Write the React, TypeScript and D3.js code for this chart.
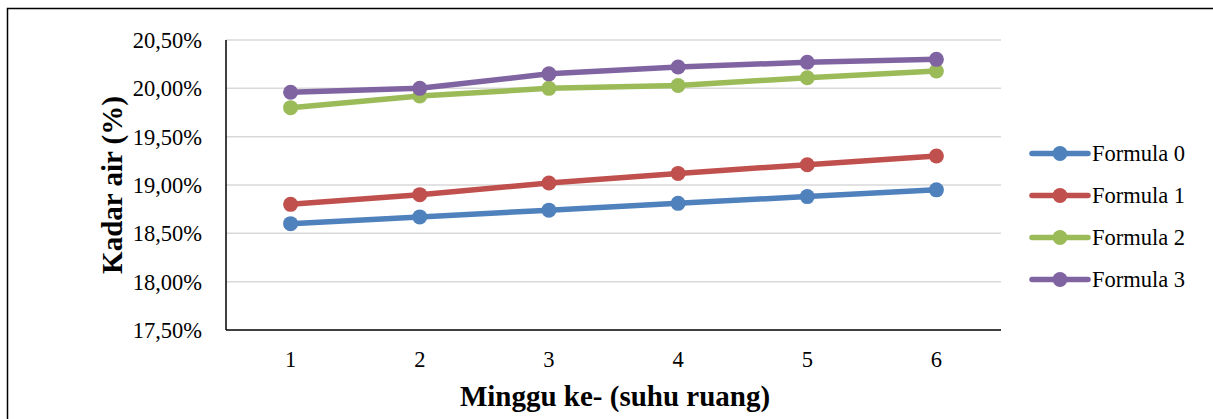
import React, { useEffect, useRef } from 'react';
import * as d3 from 'd3';

// chart data
const weeks = ['1', '2', '3', '4', '5', '6'];
const seriesNames = ['Formula 0', 'Formula 1', 'Formula 2', 'Formula 3'];
const formula0 = [18.6, 18.67, 18.74, 18.81, 18.88, 18.95];
const formula1 = [18.8, 18.9, 19.02, 19.12, 19.21, 19.3];
const formula2 = [19.8, 19.92, 20.0, 20.03, 20.11, 20.18];
const formula3 = [19.96, 20.0, 20.15, 20.22, 20.27, 20.3];
const yTicks = [17.5, 18.0, 18.5, 19.0, 19.5, 20.0, 20.5];
const colors = ['#4F81BD', '#C0504D', '#9BBB59', '#8064A2'];

const WIDTH = 1213;
const HEIGHT = 419;
const FONT = '"Liberation Serif", "Times New Roman", serif';

const App: React.FC = () => {
  const svgRef = useRef<SVGSVGElement>(null);

  useEffect(() => {
    if (!svgRef.current) return;
    const svg = d3.select(svgRef.current);
    svg.selectAll('*').remove();

    const allSeries = [formula0, formula1, formula2, formula3];

    // plot area
    const left = 226;
    const right = 1001;
    const top = 40;
    const bottom = 330;

    const x = d3.scaleBand<string>().domain(weeks).range([left, right]);
    const y = d3.scaleLinear().domain([17.5, 20.5]).range([bottom, top]);
    const cx = (w: string) => (x(w) as number) + x.bandwidth() / 2;

    // outer border (runs past the bottom/right edge of the picture)
    svg
      .append('rect')
      .attr('x', 7.5)
      .attr('y', 8.5)
      .attr('width', WIDTH + 20)
      .attr('height', HEIGHT + 20)
      .attr('fill', 'none')
      .attr('stroke', '#000')
      .attr('stroke-width', 1.5);

    // gridlines
    svg
      .append('g')
      .selectAll('line')
      .data(yTicks.slice(1))
      .enter()
      .append('line')
      .attr('x1', left)
      .attr('x2', right)
      .attr('y1', (d) => y(d))
      .attr('y2', (d) => y(d))
      .attr('stroke', '#d9d9d9')
      .attr('stroke-width', 1.5);

    // axes
    svg
      .append('line')
      .attr('x1', left)
      .attr('x2', left)
      .attr('y1', top)
      .attr('y2', bottom)
      .attr('stroke', '#000')
      .attr('stroke-width', 1.5);
    svg
      .append('line')
      .attr('x1', left)
      .attr('x2', right)
      .attr('y1', bottom)
      .attr('y2', bottom)
      .attr('stroke', '#000')
      .attr('stroke-width', 1.5);

    // y tick labels
    svg
      .append('g')
      .selectAll('text')
      .data(yTicks)
      .enter()
      .append('text')
      .attr('x', 202)
      .attr('y', (d) => y(d))
      .attr('dy', '0.35em')
      .attr('text-anchor', 'end')
      .attr('font-family', FONT)
      .attr('font-size', 22.5)
      .text((d) => d.toFixed(2).replace('.', ',') + '%');

    // x tick labels
    svg
      .append('g')
      .selectAll('text')
      .data(weeks)
      .enter()
      .append('text')
      .attr('x', (d) => cx(d))
      .attr('y', 367)
      .attr('text-anchor', 'middle')
      .attr('font-family', FONT)
      .attr('font-size', 22.5)
      .text((d) => d);

    // axis titles
    svg
      .append('text')
      .attr('x', 615)
      .attr('y', 406)
      .attr('text-anchor', 'middle')
      .attr('font-family', FONT)
      .attr('font-weight', 'bold')
      .attr('font-size', 29)
      .text('Minggu ke- (suhu ruang)');

    svg
      .append('text')
      .attr('transform', 'translate(122,185) rotate(-90)')
      .attr('text-anchor', 'middle')
      .attr('font-family', FONT)
      .attr('font-weight', 'bold')
      .attr('font-size', 29)
      .text('Kadar air (%)');

    // series lines + markers
    const line = d3
      .line<number>()
      .x((_, i) => cx(weeks[i]))
      .y((d) => y(d));

    allSeries.forEach((values, si) => {
      const g = svg.append('g');
      g.append('path')
        .datum(values)
        .attr('d', line)
        .attr('fill', 'none')
        .attr('stroke', colors[si])
        .attr('stroke-width', 5.5)
        .attr('stroke-linejoin', 'round');
      g.selectAll('circle')
        .data(values)
        .enter()
        .append('circle')
        .attr('cx', (_, i) => cx(weeks[i]))
        .attr('cy', (d) => y(d))
        .attr('r', 7.5)
        .attr('fill', colors[si]);
    });

    // legend
    const legend = svg
      .append('g')
      .selectAll('g')
      .data(seriesNames)
      .enter()
      .append('g')
      .attr('transform', (_, i) => `translate(1032,${153.5 + i * 42})`);
    legend
      .append('line')
      .attr('x1', 0)
      .attr('x2', 56)
      .attr('stroke', (_, i) => colors[i])
      .attr('stroke-width', 5.5)
      .attr('stroke-linecap', 'round');
    legend
      .append('circle')
      .attr('cx', 28)
      .attr('r', 7.5)
      .attr('fill', (_, i) => colors[i]);
    legend
      .append('text')
      .attr('x', 60)
      .attr('dy', '0.35em')
      .attr('font-family', FONT)
      .attr('font-size', 22.5)
      .text((d) => d);
  }, []);

  return (
    <svg
      ref={svgRef}
      width={WIDTH}
      height={HEIGHT}
      style={{ position: 'absolute', left: 0, top: 0, background: '#fff' }}
    />
  );
};

export default App;
